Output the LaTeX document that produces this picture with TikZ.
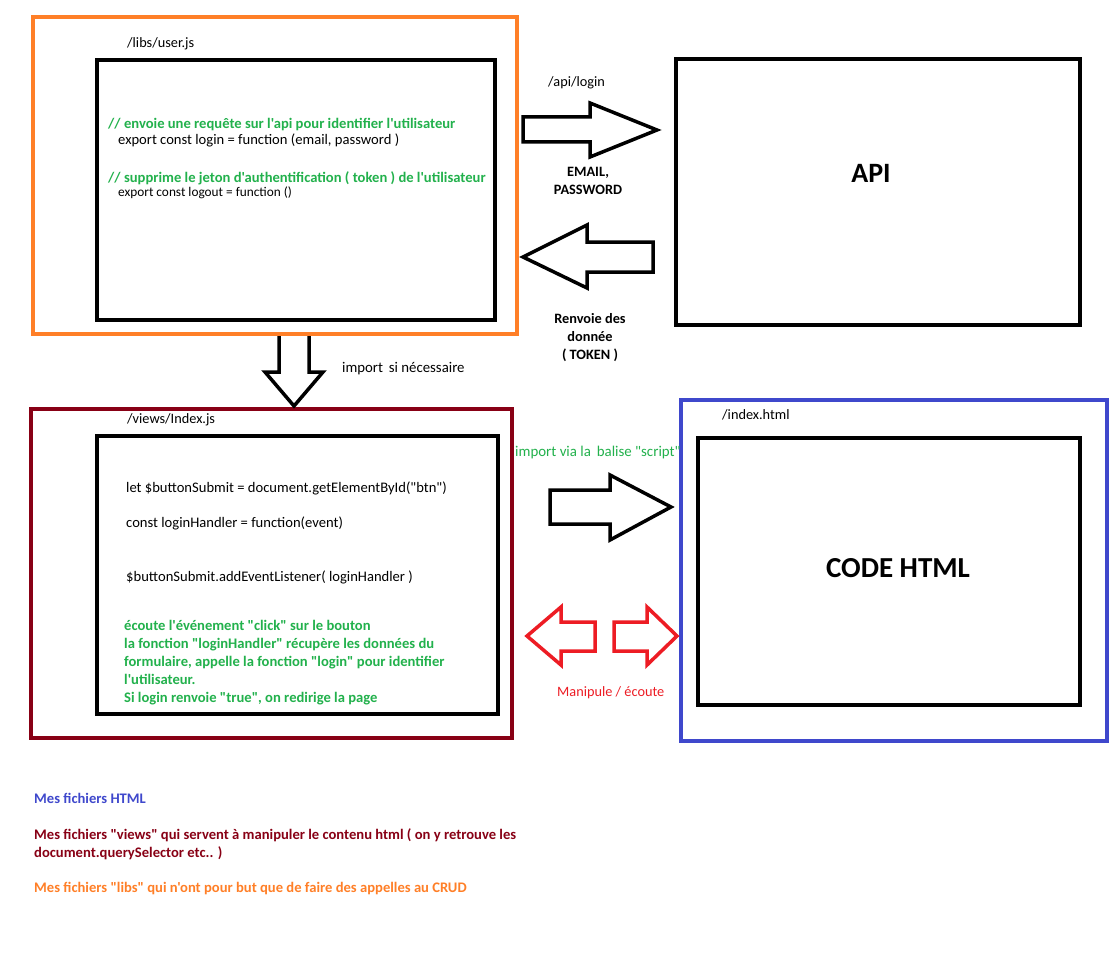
\documentclass[tikz,border=0pt]{standalone}
\usepackage{fontspec}
\setmainfont{Carlito}[Ligatures=TeXOff]
\definecolor{porange}{HTML}{FF7F27}
\definecolor{pdarkred}{HTML}{880015}
\definecolor{pblue}{HTML}{3F48CC}
\definecolor{pgreen}{HTML}{22B14C}
\definecolor{pred}{HTML}{ED1C24}
\begin{document}
\begin{tikzpicture}[x=1pt,y=-1pt,
  frame/.style={draw, line width=4pt, inner sep=0pt},
  blk/.style={draw, line width=3.5pt, line join=miter},
  txt/.style={inner sep=0pt, font=\fontsize{14.3}{17}\selectfont, text height=10pt, text depth=3pt},
  code/.style={txt, anchor=west},
  bcode/.style={txt, anchor=west, font=\fontsize{14.6}{17}\selectfont\bfseries, text=pgreen},
  lbl/.style={inner sep=0pt, anchor=north, align=center, font=\fontsize{14.3}{18.3}\selectfont\bfseries},
  leg/.style={inner sep=0pt, anchor=north west, align=left, font=\fontsize{14.6}{18}\selectfont\bfseries},
  ]
\useasboundingbox (0,0) rectangle (1116,971);
\fill[white] (0,0) rectangle (1116,971);
% boxes
\draw[frame, porange] (33,17) rectangle (517,334);
\draw[frame] (97,60) rectangle (495,320);
\draw[frame] (676,59) rectangle (1080,325);
\draw[frame, pdarkred] (31,409) rectangle (512,738);
\draw[frame] (97,436) rectangle (498,714);
\draw[frame, pblue] (681,400) rectangle (1107,741);
\draw[frame] (698,438) rectangle (1080,705);
% labels of boxes
\node[code] (libs) at (127,44) {/libs/user.js};
\node[code] (views) at (127,420) {/views/Index.js};
\node[code] (html) at (722,416) {/index.html};
\node[txt, font=\fontsize{28}{30}\selectfont\bfseries, text height=19pt] (api) at (871,174) {API};
\node[txt, font=\fontsize{29}{32}\selectfont\bfseries, text height=19pt] (codehtml) at (898,569) {CODE HTML};
% user.js content
\node[bcode] (c1) at (108,125) {// envoie une requête sur l'api pour identifier l'utilisateur};
\node[code, font=\fontsize{14.6}{17}\selectfont] (c2) at (118,141) {export const login = function (email, password )};
\node[bcode] (c3) at (108,179) {// supprime le jeton d'authentification ( token ) de l'utilisateur};
\node[code, font=\fontsize{13.3}{15}\selectfont] (c4) at (118,193) {export const logout = function ()};
% index.js content
\node[code, font=\fontsize{14.6}{17}\selectfont] (v1) at (126,489) {let \$buttonSubmit = document.getElementById("btn")};
\node[code, font=\fontsize{14.6}{17}\selectfont] (v2) at (126,524) {const loginHandler = function(event)};
\node[code, font=\fontsize{14.6}{17}\selectfont] (v3) at (126,578) {\$buttonSubmit.addEventListener( loginHandler )};
\node[leg, text=pgreen] (v4) at (124,620) {écoute l'événement "click" sur le bouton\\la fonction "loginHandler" récupère les données du\\formulaire, appelle la fonction "login" pour identifier\\l'utilisateur.\\Si login renvoie "true", on redirige la page};
% top arrows
\draw[blk] (523,117) -- (590,117) -- (590,103) -- (657,130) -- (590,157) -- (590,142) -- (523,142) -- cycle;
\draw[blk] (653,242) -- (587,242) -- (587,225) -- (523,257) -- (587,288) -- (587,272) -- (653,272) -- cycle;
\node[code] (apilogin) at (548,83) {/api/login};
\node[lbl] (email) at (588,167) {EMAIL,\\PASSWORD};
\node[lbl] (renvoie) at (590,313) {Renvoie des\\donnée\\( TOKEN )};
% down arrow
\draw[blk] (279,336) -- (279,372) -- (265,372) -- (294,406) -- (323,372) -- (309,372) -- (309,336);
\node[code, font=\fontsize{14.8}{17}\selectfont] (imp) at (342,369) {import\, si nécessaire};
% script arrow
\draw[blk] (550,490) -- (610,490) -- (610,475) -- (671,507) -- (610,540) -- (610,524) -- (550,524) -- cycle;
\node[code, text=pgreen, font=\fontsize{14.9}{17}\selectfont] (script) at (515,453) {import via la\, balise "script"};
% red arrows
\draw[blk, pred] (595,622) -- (561,622) -- (561,607) -- (527,636) -- (561,665) -- (561,651) -- (595,651) -- cycle;
\draw[blk, pred] (614,622) -- (647,622) -- (647,607) -- (677,636) -- (647,665) -- (647,651) -- (614,651) -- cycle;
\node[code, text=pred] (manip) at (557,693) {Manipule / écoute};
% legend
\node[leg, text=pblue] (l1) at (34,793) {Mes fichiers HTML};
\node[leg, text=pdarkred] (l2) at (34,828) {Mes fichiers "views" qui servent à manipuler le contenu html ( on y retrouve les\\document.querySelector etc.. )};
\node[leg, text=porange] (l3) at (34,882) {Mes fichiers "libs" qui n'ont pour but que de faire des appelles au CRUD};
\end{tikzpicture}
\end{document}
